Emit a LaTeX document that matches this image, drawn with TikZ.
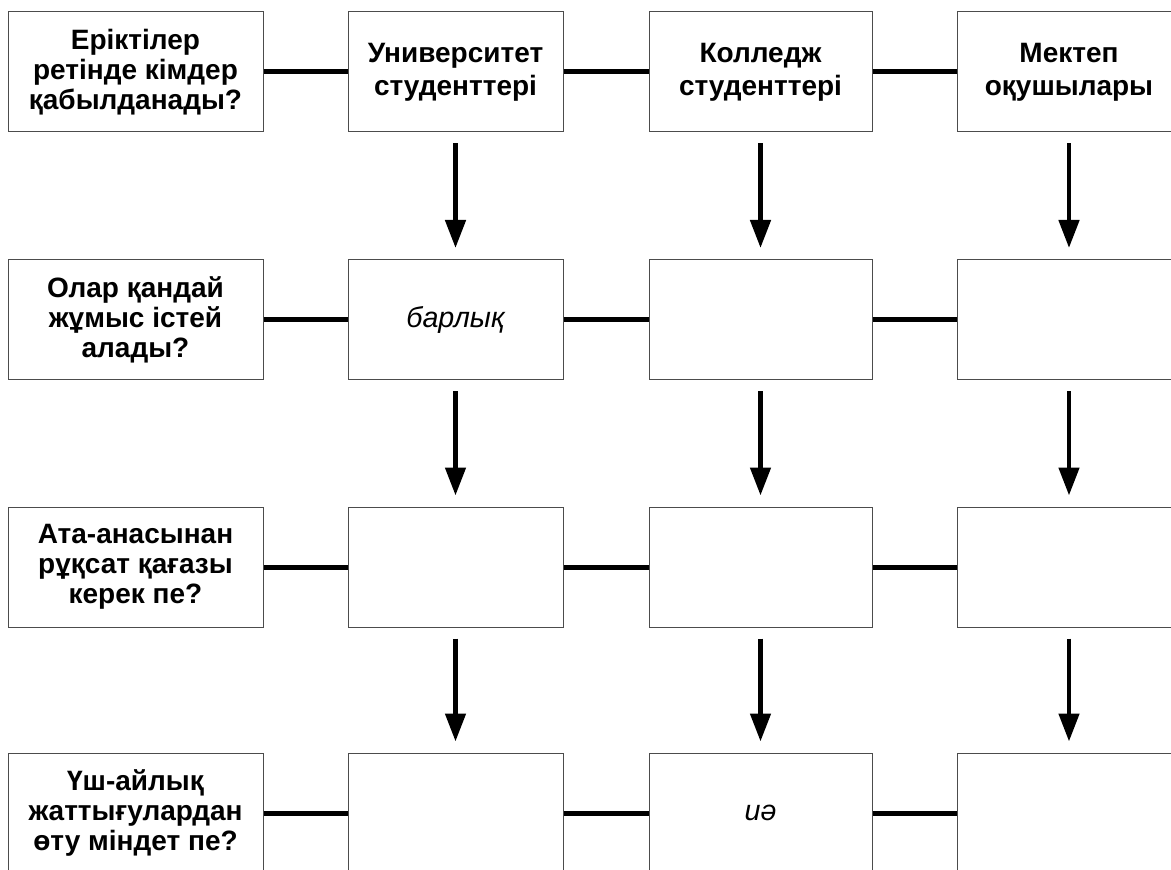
\documentclass[tikz,border=0pt]{standalone}
\usepackage{fontspec}
\setmainfont{Liberation Sans}
\usetikzlibrary{arrows.meta}
\tikzset{
  cellbox/.style={
    draw=black!70, line width=0.75pt, fill=white,
    minimum height=90pt, inner sep=0pt, align=center,
    font=\fontsize{21}{22.5}\selectfont,
  },
  askbox/.style={cellbox, minimum width=191.25pt, font=\bfseries\fontsize{21}{22.5}\selectfont},
  headbox/.style={cellbox, font=\bfseries\fontsize{21}{24.75}\selectfont},
  markbox/.style={cellbox, font=\itshape\fontsize{21.5}{22.5}\selectfont},
  unicol/.style={minimum width=161.25pt},
  colcol/.style={minimum width=167.25pt},
  schcol/.style={minimum width=168pt},
}

\begin{document}
\begin{tikzpicture}[x=0.75pt,y=-0.75pt,
    link/.style={line width=3.75pt},
    down/.style={-{Triangle[length=21pt,width=15pt]}, line width=3.5pt,
                 shorten <=8.25pt, shorten >=8.25pt}]

                \useasboundingbox (0,0) rectangle (1171,870);
                \clip (0,0) rectangle (1171,870);

                % who is taken
                \node[askbox] (q1) at (135.5,72){Еріктілер\\ретінде кімдер\\қабылданады?};
                \node[headbox, unicol] (uni1) at (455.5,72){Университет\\студенттері};
                \node[headbox, colcol] (col1) at (760.5,72){Колледж\\студенттері};
                \node[headbox, schcol] (sch1) at (1069,72){Мектеп\\оқушылары};
                \draw[link] (q1.east) -- (uni1.west);
                \draw[link] (uni1.east) -- (col1.west);
                \draw[link] (col1.east) -- (sch1.west);

                % what they can do
                \node[askbox] (q2) at (135.5,319.5){Олар қандай\\жұмыс істей\\алады?};
                \node[markbox, unicol] (uni2) at (455.5,319.5){барлық};
                \node[cellbox, colcol] (col2) at (760.5,319.5){};
                \node[cellbox, schcol] (sch2) at (1069,319.5){};
                \draw[link] (q2.east) -- (uni2.west);
                \draw[link] (uni2.east) -- (col2.west);
                \draw[link] (col2.east) -- (sch2.west);

                % parents' permission
                \node[askbox] (q3) at (135.5,567){Ата-анасынан\\рұқсат қағазы\\керек пе?};
                \node[cellbox, unicol] (uni3) at (455.5,567){};
                \node[cellbox, colcol] (col3) at (760.5,567){};
                \node[cellbox, schcol] (sch3) at (1069,567){};
                \draw[link] (q3.east) -- (uni3.west);
                \draw[link] (uni3.east) -- (col3.west);
                \draw[link] (col3.east) -- (sch3.west);

                % training
                \node[askbox] (q4) at (135.5,813){Үш-айлық\\жаттығулардан\\өту міндет пе?};
                \node[cellbox, unicol] (uni4) at (455.5,813){};
                \node[markbox, colcol] (col4) at (760.5,813){иә};
                \node[cellbox, schcol] (sch4) at (1069,813){};
                \draw[link] (q4.east) -- (uni4.west);
                \draw[link] (uni4.east) -- (col4.west);
                \draw[link] (col4.east) -- (sch4.west);

                \draw[down] (uni1) -- (uni2);
                \draw[down] (uni2) -- (uni3);
                \draw[down] (uni3) -- (uni4);
                \draw[down] (col1) -- (col2);
                \draw[down] (col2) -- (col3);
                \draw[down] (col3) -- (col4);
                \draw[down] (sch1) -- (sch2);
                \draw[down] (sch2) -- (sch3);
                \draw[down] (sch3) -- (sch4);

        \end{tikzpicture}
\end{document}
